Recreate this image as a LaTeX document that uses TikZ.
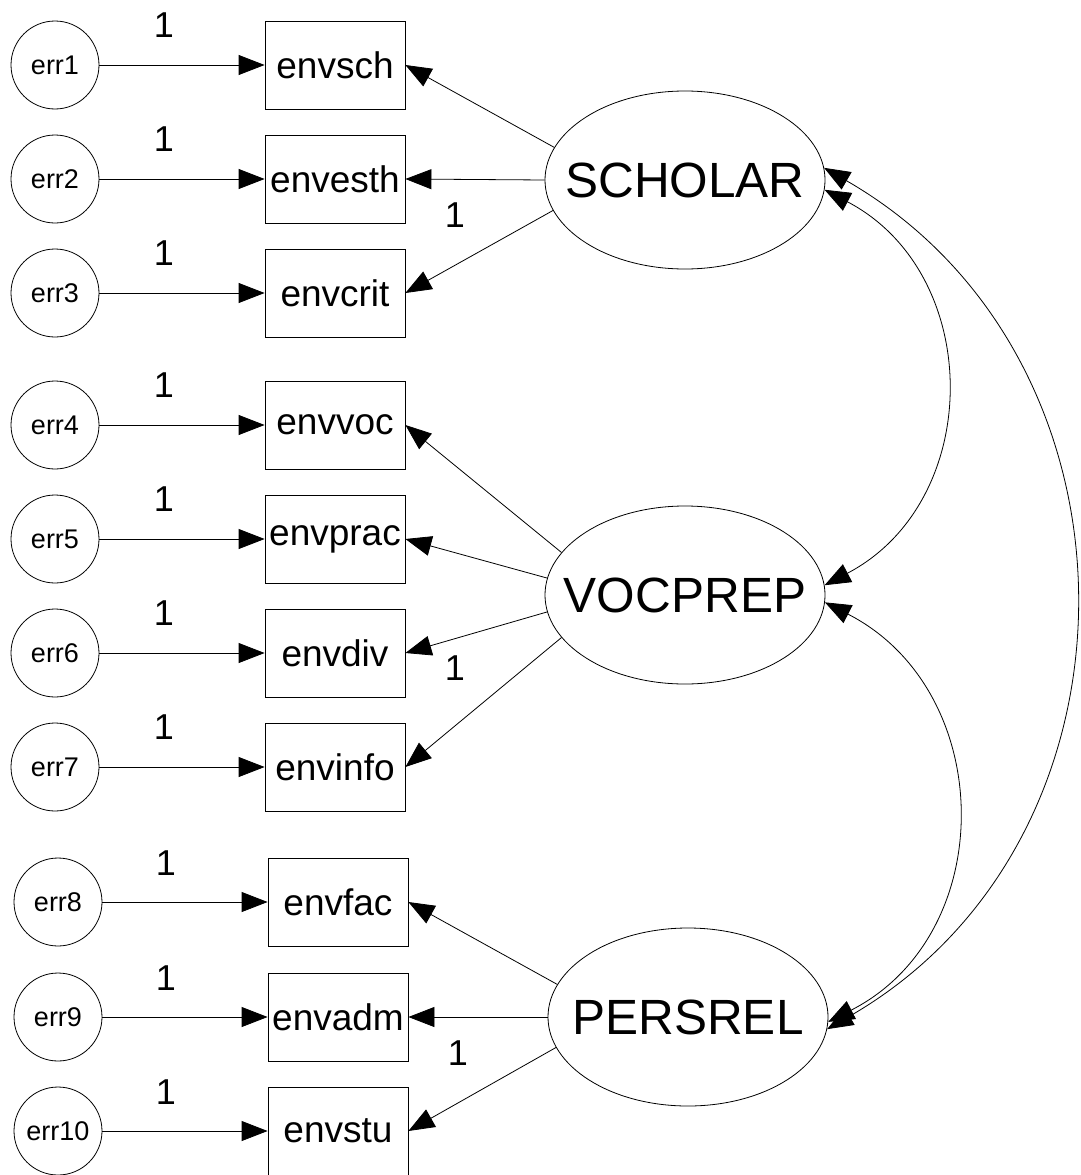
\documentclass[tikz,border=0pt]{standalone}
\usepackage{fontspec}
\setmainfont{Liberation Sans}
\usetikzlibrary{shapes.geometric,arrows.meta}
\begin{document}
\begin{tikzpicture}[x=1pt,y=-1pt,
  errc/.style={circle,draw,line width=0.8pt,minimum size=88pt,inner sep=0pt,font=\fontsize{27}{30}\selectfont},
  obs/.style={rectangle,draw,line width=0.8pt,minimum width=140pt,minimum height=88pt,inner sep=0pt,font=\fontsize{37}{40}\selectfont},
  lat/.style={ellipse,draw,line width=0.8pt,minimum width=280pt,minimum height=178pt,inner sep=0pt,font=\fontsize{49.5}{52}\selectfont},
  one/.style={inner sep=0pt,font=\fontsize{36}{40}\selectfont},
  oneway/.style={line width=0.8pt,-{Triangle[length=26pt,width=20pt]}},
  twoway/.style={line width=0.8pt,{Triangle[length=26pt,width=20pt]}-{Triangle[length=26pt,width=20pt]}}]
\useasboundingbox (0,0) rectangle (1080,1175);

% error terms and observed variables
\foreach \i/\y/\t in {1/65/envsch,2/179/envesth,3/293/envcrit,4/425/envvoc,5/539/envprac,6/653/envdiv,7/767/envinfo}{
  \node[errc] (e\i) at (55,\y) {err\i};
  \node[obs] (o\i) at (335,\y) {\t};
  \node[one] (n\i) at (164,\y-40) {1};
  \draw[oneway] (e\i) -- (o\i);
}
\foreach \i/\y/\t in {8/902/envfac,9/1017/envadm,10/1131/envstu}{
  \node[errc] (e\i) at (58,\y) {err\i};
  \node[obs] (o\i) at (338,\y) {\t};
  \node[one] (n\i) at (166,\y-39) {1};
  \draw[oneway] (e\i) -- (o\i);
}

% latent variables
\node[lat] (S) at (685,180) {\makebox[0pt]{SCHOLAR}};
\node[lat] (V) at (685,595) {\makebox[0pt]{VOCPREP}};
\node[lat] (P) at (688,1017) {\makebox[0pt]{PERSREL}};

% loadings
\draw[oneway] (S.166.4) -- (o1.east);
\draw[oneway] (S.west) -- (o2.east);
\draw[oneway] (S.-167.2) -- (o3.east);
\draw[oneway] (V.161.4) -- (o4.east);
\draw[oneway] (V.173) -- (o5.east);
\draw[oneway] (V.187) -- (o6.east);
\draw[oneway] (V.199) -- (o7.east);
\draw[oneway] (P.166.9) -- (o8.east);
\draw[oneway] (P.west) -- (o9.east);
\draw[oneway] (P.193.1) -- (o10.east);

\node[one] (ls) at (455,215) {1};
\node[one] (lv) at (455,668) {1};
\node[one] (lp) at (458,1053) {1};

% covariances
\draw[twoway] (S.-4) .. controls +(160,84) and +(160,-84) .. (V.4);
\draw[twoway] (V.-3) .. controls +(172,88) and +(172,-88) .. (P.-2);
\draw[twoway] (S.5.7) .. controls +(330,190) and +(330,-190) .. (P.-5);
\end{tikzpicture}
\end{document}
